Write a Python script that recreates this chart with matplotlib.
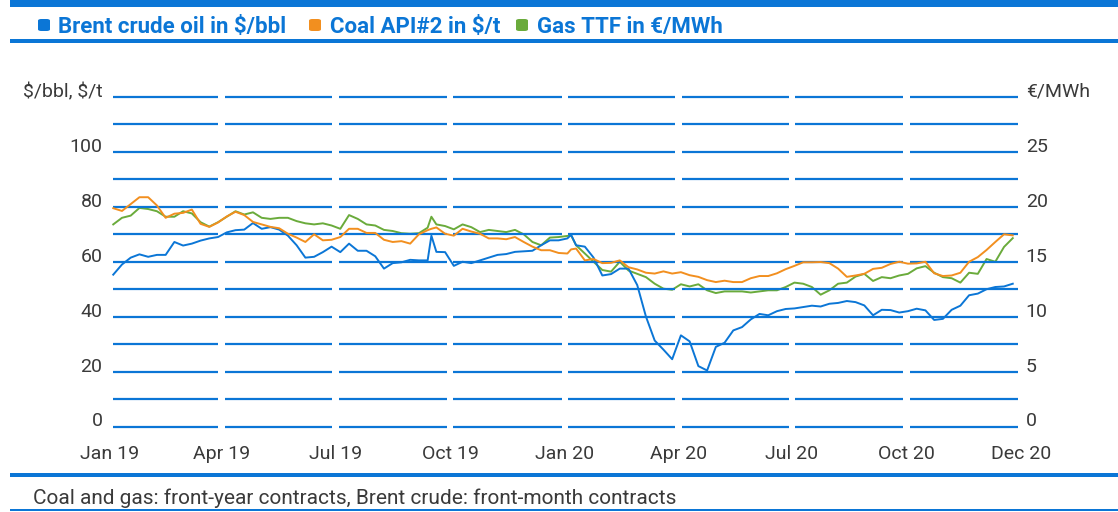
import matplotlib
matplotlib.use("Agg")
import matplotlib.pyplot as plt
import matplotlib.dates as mdates
from matplotlib.patches import Rectangle, FancyBboxPatch
import pandas as pd

# Colours
blue = "#0b76d6"
orange = "#f28f1f"
green = "#6aab3b"
text_grey = "#3a3a3a"

# Weekly prices (Fridays from 4 Jan 2019)
week_start = "2019-01-04"
brent = [55.3, 59.0, 61.5, 62.7, 61.8, 62.5, 62.5, 67.2, 65.9, 66.6,
         67.7, 68.5, 69.0, 70.7, 71.5, 71.7, 74.1, 72.0, 72.6, 71.7,
         69.5, 66.0, 61.5, 61.8, 63.5, 65.5, 63.5, 66.6, 64.0, 64.0,
         62.0, 57.5, 59.5, 59.8, 60.7, 60.5, 60.5, 63.6, 63.5, 58.5,
         60.0, 59.5, 60.5, 61.5, 62.5, 62.8, 63.6, 63.8, 64.0, 66.0,
         67.8, 67.8, 68.5, 66.0, 65.5, 61.5, 55.0, 55.5, 57.5, 57.5,
         51.5, 40.0, 31.3, 28.0, 24.5, 33.2, 31.0, 22.0, 20.4, 29.0,
         30.5, 35.0, 36.2, 39.0, 41.0, 40.5, 42.0, 42.8, 43.0, 43.5,
         44.0, 43.7, 44.7, 45.0, 45.7, 45.3, 44.1, 40.5, 42.5, 42.4,
         41.5, 42.0, 42.9, 42.3, 38.8, 39.2, 42.5, 44.0, 47.8, 48.4,
         50.0, 50.8, 51.0, 52.0]
coal = [79.5, 78.5, 81.0, 83.5, 83.5, 80.5, 76.0, 77.5, 77.8, 79.0,
        73.8, 72.7, 74.3, 76.5, 78.2, 77.0, 74.5, 73.6, 72.7, 72.2,
        70.2, 68.8, 67.2, 70.0, 67.8, 68.0, 69.0, 72.0, 72.0, 70.5,
        70.5, 68.0, 67.2, 67.5, 66.6, 70.0, 71.5, 72.5, 70.2, 69.5,
        72.0, 71.0, 70.2, 68.5, 68.5, 68.2, 69.0, 67.2, 65.5, 64.2,
        64.2, 63.2, 63.0, 64.8, 60.5, 61.0, 59.5, 59.6, 60.5, 58.0,
        57.2, 56.0, 55.7, 56.5, 55.7, 56.2, 55.1, 54.5, 53.3, 52.6,
        53.1, 52.6, 52.6, 54.0, 54.8, 54.8, 55.8, 57.3, 58.5, 59.8,
        59.8, 59.9, 59.5, 57.5, 54.5, 55.0, 55.6, 57.4, 57.8, 59.2,
        60.0, 59.3, 59.4, 60.0, 55.8, 54.8, 55.0, 56.0, 60.0, 61.7,
        64.3, 67.2, 70.0, 69.6]
gas = [18.4, 19.0, 19.2, 19.9, 19.8, 19.6, 19.1, 19.1, 19.6, 19.4,
       18.6, 18.2, 18.6, 19.1, 19.6, 19.3, 19.5, 19.0, 18.9, 19.0,
       19.0, 18.7, 18.5, 18.4, 18.5, 18.3, 18.0, 19.25, 18.9, 18.4,
       18.3, 17.9, 17.8, 17.6, 17.55, 17.6, 18.1, 18.4, 18.25, 17.95,
       18.4, 18.15, 17.7, 17.9, 17.8, 17.7, 17.9, 17.5, 16.8, 16.5,
       17.2, 17.25, 17.35, 16.5, 15.75, 15.0, 14.25, 14.1, 15.0, 14.2,
       13.9, 13.6, 13.0, 12.55, 12.45, 12.95, 12.75, 12.95, 12.4, 12.15,
       12.3, 12.3, 12.3, 12.2, 12.3, 12.4, 12.4, 12.7, 13.1, 13.0,
       12.7, 12.0, 12.4, 13.0, 13.1, 13.65, 13.9, 13.25, 13.6, 13.5,
       13.75, 13.9, 14.4, 14.6, 14.0, 13.6, 13.5, 13.1, 14.0, 13.9,
       15.25, 15.0, 16.35, 17.15]

# Single-day spikes between the weekly points
spike_dates = ["2019-09-16", "2020-01-06"]
spike_brent = [69.5, 69.8]
spike_coal = [72.0, 64.5]
spike_gas = [19.1, 17.4]

tick_dates = ["2019-01-01", "2019-04-01", "2019-07-01", "2019-10-01", "2020-01-01",
              "2020-04-01", "2020-07-01", "2020-10-01", "2021-01-01"]
tick_labels = ["Jan 19", "Apr 19", "Jul 19", "Oct 19", "Jan 20",
               "Apr 20", "Jul 20", "Oct 20", "Dec 20"]
left_ticks = [0, 20, 40, 60, 80, 100, 120]
left_labels = ["0", "20", "40", "60", "80", "100", "$/bbl, $/t"]
right_ticks = [0, 5, 10, 15, 20, 25, 30]
right_labels = ["0", "5", "10", "15", "20", "25", "€/MWh"]
grid_levels = list(range(0, 121, 10))

legend_items = ["Brent crude oil in $/bbl", "Coal API#2 in $/t", "Gas TTF in €/MWh"]
footnote = "Coal and gas: front-year contracts, Brent crude: front-month contracts"

# Put weekly data and spikes into one frame sorted by date
weekly = pd.DataFrame({"brent": brent, "coal": coal, "gas": gas},
                      index=pd.date_range(week_start, periods=len(brent), freq="7D"))
spikes = pd.DataFrame({"brent": spike_brent, "coal": spike_coal, "gas": spike_gas},
                      index=pd.to_datetime(spike_dates))
df = pd.concat([weekly, spikes]).sort_index()

plt.rcParams["font.family"] = ["Roboto", "DejaVu Sans"]
plt.rcParams["text.parse_math"] = False

W, H = 1118, 512
fig = plt.figure(figsize=(W / 100, H / 100), dpi=100)

# Plot area in pixels of the reference
x0, x1 = 109.5, 1021.5
y_top, y_bot = 97, 426.5
ax = fig.add_axes([x0 / W, (H - y_bot) / H, (x1 - x0) / W, (y_bot - y_top) / H])
ax2 = ax.twinx()

ticks = mdates.date2num(pd.to_datetime(tick_dates))
ax.set_xlim(ticks[0], ticks[-1])
ax.set_ylim(0, 120)
ax2.set_ylim(0, 30)

# Broken horizontal grid: one segment per quarter
gap = 2.7
for lvl in grid_levels:
    for k in range(len(ticks) - 1):
        ax.hlines(lvl, ticks[k] + gap, ticks[k + 1] - gap, color=blue, lw=1.6,
                  clip_on=False, zorder=1)

ax.plot(df.index, df["brent"], color=blue, lw=1.4, zorder=3)
ax.plot(df.index, df["coal"], color=orange, lw=1.4, zorder=3)
ax2.plot(df.index, df["gas"], color=green, lw=1.4, zorder=3)
ax.set_zorder(2)
ax.patch.set_visible(False)

for a in (ax, ax2):
    for s in a.spines.values():
        s.set_visible(False)

ax.set_xticks(ticks)
ax.set_xticklabels(tick_labels)
ax.tick_params(axis="x", length=0, pad=13, labelsize=14, labelcolor=text_grey)
ax.set_yticks(left_ticks)
ax.set_yticklabels(left_labels)
ax.tick_params(axis="y", length=0, pad=5, labelsize=14, labelcolor=text_grey)
ax2.set_yticks(right_ticks)
ax2.set_yticklabels(right_labels)
ax2.tick_params(axis="y", length=0, pad=3, labelsize=14, labelcolor=text_grey)
for lbl in ax.get_yticklabels() + ax2.get_yticklabels():
    lbl.set_va("baseline")


# Helper for rectangles given in reference pixels
def px_rect(left, top, right, bottom, color):
    fig.add_artist(Rectangle((left / W, 1 - bottom / H), (right - left) / W,
                             (bottom - top) / H, transform=fig.transFigure,
                             color=color, lw=0))


px_rect(10, 0, W, 7, blue)
px_rect(10, 39, W, 43, blue)
px_rect(10, 473, W, 477, blue)
px_rect(10, 509, W, 511, blue)

# Legend row at the top
square_x = [38, 309, 516]
text_x = [58, 330, 537]
for sx, tx, label, col in zip(square_x, text_x, legend_items, [blue, orange, green]):
    fig.add_artist(FancyBboxPatch((sx / W, 1 - 31 / H), 12 / W, 12 / H,
                                  boxstyle="round,pad=0,rounding_size=0.003",
                                  transform=fig.transFigure, color=col, lw=0))
    fig.text(tx / W, 1 - 33 / H, label, fontsize=16, fontweight="bold",
             color=blue, va="baseline")

fig.text(33 / W, 1 - 504 / H, footnote, fontsize=15, color=text_grey, va="baseline")

fig.savefig("out.png", dpi=100)
